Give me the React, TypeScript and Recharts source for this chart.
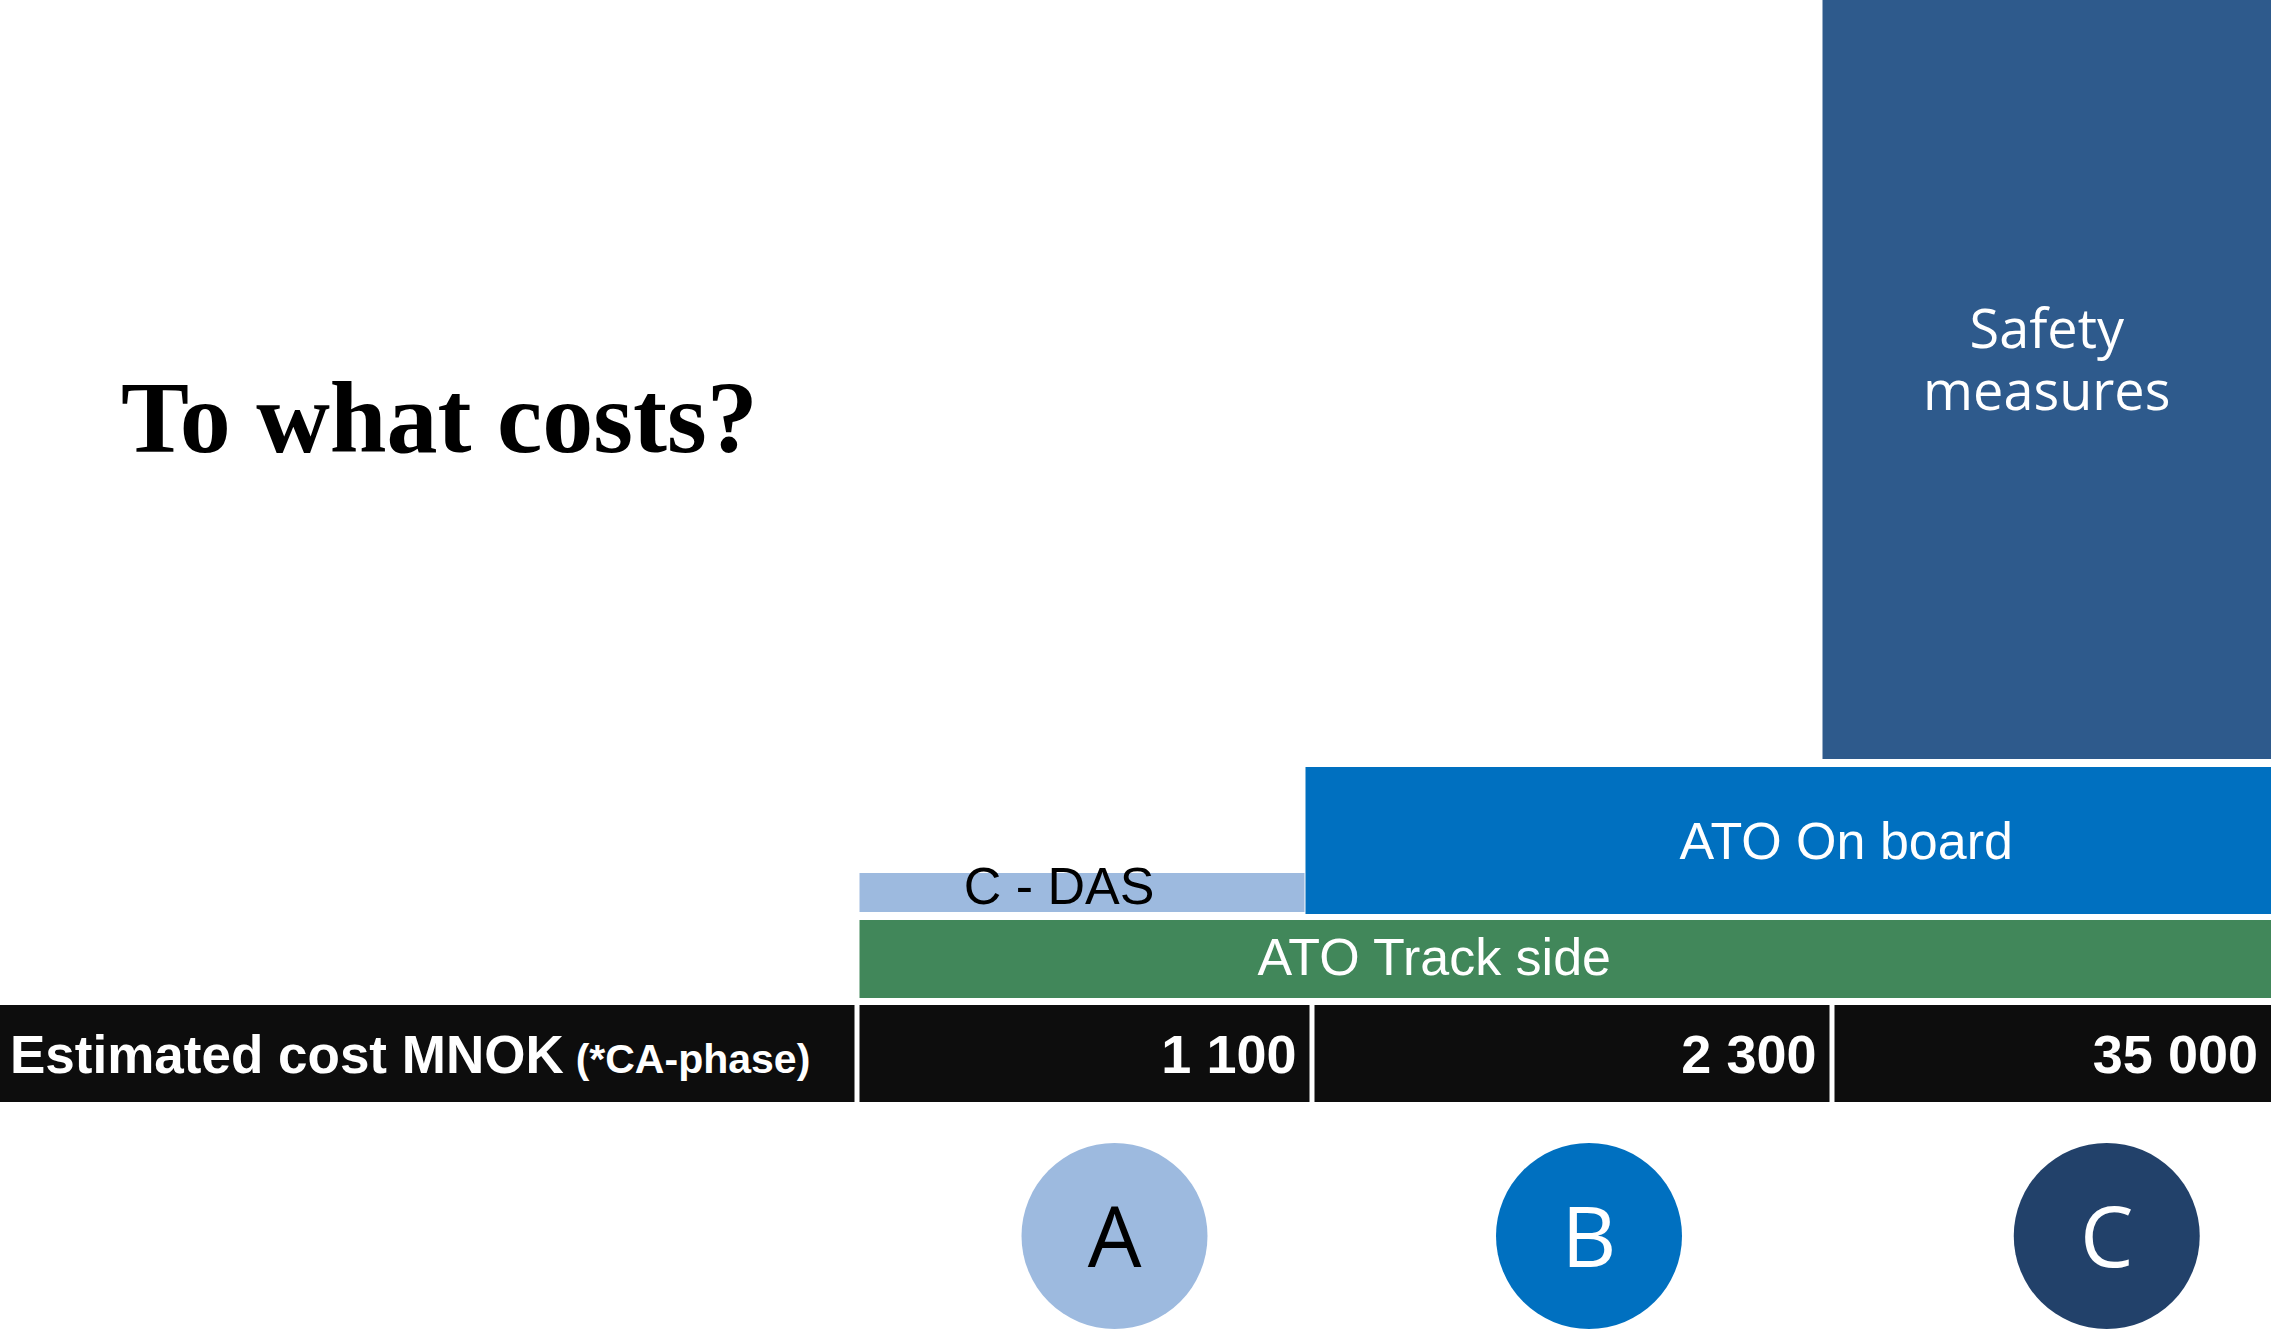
import { ComposedChart, XAxis, YAxis, ReferenceArea, Scatter } from 'recharts';

const W = 2271;
const H = 1332;

// the three options and their estimated cost (MNOK, CA-phase)
const options = ['A', 'B', 'C'];
const costs = ['1 100', '2 300', '35 000'];
const costHeader = 'Estimated cost MNOK';
const costNote = '(*CA-phase)';

// building blocks, and which options they span
const layers = ['ATO Track side', 'C - DAS', 'ATO On board', 'Safety measures'];
const layerFrom = ['A', 'A', 'B', 'C'];
const layerTo = ['C', 'A', 'C', 'C'];

// styles
const optionColors = ['#9DBADF', '#0070C0', '#22416A'];
const optionTextColors = ['#000000', '#ffffff', '#ffffff'];
const layerColors = ['#41875A', '#9DBADF', '#0070C0', '#2E5A8C'];
const layerTextColors = ['#ffffff', '#000000', '#ffffff', '#ffffff'];

// layout (chart units == pixels)
const colEdges = [0, 857, 1312, 1832, W];
const GAP = 5;
const costRow = [1005, 1102];
const layerRows = [[920, 998], [873, 912], [767, 914], [0, 759]];
const layerNudge = [[0, 0], [0, -5], [-9, 0], [-12, 0]];
const labelShift = [[-131, -3], [-23, -7], [58, 0], [0, 0]];
const circleY = 1236;
const circleR = 93;
const circleNudge = [30, 17, 54];

const SANS = '"Liberation Sans", Arial, sans-serif';

const cellX = (i: number) => [
  colEdges[i] + (i > 0 ? GAP / 2 : 0),
  colEdges[i + 1] - (i < options.length ? GAP / 2 : 0),
];

const layerLabel = (k: number) => (props: any) => {
  const { x, y, width, height } = props.viewBox;
  const cx = x + width / 2 + labelShift[k][0];
  const cy = y + height / 2 + labelShift[k][1];
  if (layers[k] === 'Safety measures') {
    return (
      <text x={cx} textAnchor="middle" fill={layerTextColors[k]}
        fontFamily='"Open Sans", sans-serif' fontSize={54}>
        <tspan x={cx} y={348}>Safety</tspan>
        <tspan x={cx} y={410}>measures</tspan>
      </text>
    );
  }
  return (
    <text x={cx} y={cy + 0.358 * 52} textAnchor="middle" fill={layerTextColors[k]}
      fontFamily={SANS} fontSize={52}>
      {layers[k]}
    </text>
  );
};

const costLabel = (i: number) => (props: any) => {
  const { x, y, width, height } = props.viewBox;
  const base = y + height / 2 + 19;
  if (i === 0) {
    return (
      <text x={x + 10} y={base} fill="#ffffff" fontFamily={SANS} fontWeight="bold" fontSize={53}>
        {costHeader}
        <tspan fontSize={41} dx={12}>{costNote}</tspan>
      </text>
    );
  }
  return (
    <text x={x + width - 13} y={base} textAnchor="end" fill="#ffffff"
      fontFamily={SANS} fontWeight="bold" fontSize={54}>
      {costs[i - 1]}
    </text>
  );
};

const circleData = options.map((o, i) => {
  const [a, b] = cellX(i + 1);
  return { x: (a + b) / 2 + circleNudge[i], y: circleY, name: o, i };
});

const OptionDot = (props: any) => {
  const { cx, cy, payload } = props;
  return (
    <g>
      <circle cx={cx} cy={cy} r={circleR} fill={optionColors[payload.i]} />
      <text x={cx} y={cy + 31} textAnchor="middle" fill={optionTextColors[payload.i]}
        fontFamily='"Open Sans", sans-serif' fontSize={85}>
        {payload.name}
      </text>
    </g>
  );
};

const App = () => {
  return (
    <div style={{ position: 'absolute', left: 0, top: 0, width: W, height: H, background: '#fff', overflow: 'hidden' }}>
      <div
        style={{
          position: 'absolute', left: 121, top: 367, fontFamily: '"Liberation Serif", serif',
          fontWeight: 'bold', fontSize: 102, lineHeight: 1, color: '#000', whiteSpace: 'nowrap',
        }}
      >
        To what costs?
      </div>
      <ComposedChart width={W} height={H} margin={{ top: 0, right: 0, bottom: 0, left: 0 }}>
        <XAxis type="number" dataKey="x" domain={[0, W]} hide allowDataOverflow />
        <YAxis type="number" dataKey="y" domain={[0, H]} reversed hide allowDataOverflow />
        {layers.map((name, k) => {
          const from = options.indexOf(layerFrom[k]) + 1;
          const to = options.indexOf(layerTo[k]) + 1;
          return (
            <ReferenceArea
              key={name}
              x1={cellX(from)[0] + layerNudge[k][0]}
              x2={cellX(to)[1] + layerNudge[k][1]}
              y1={layerRows[k][0]}
              y2={layerRows[k][1]}
              fill={layerColors[k]}
              fillOpacity={1}
              stroke="none"
              label={layerLabel(k)}
            />
          );
        })}
        {[0, 1, 2, 3].map((i) => (
          <ReferenceArea
            key={'cost' + i}
            x1={cellX(i)[0]}
            x2={cellX(i)[1]}
            y1={costRow[0]}
            y2={costRow[1]}
            fill="#0D0D0D"
            fillOpacity={1}
            stroke="none"
            label={costLabel(i)}
          />
        ))}
        <Scatter data={circleData} shape={OptionDot} isAnimationActive={false} />
      </ComposedChart>
    </div>
  );
};

export default App;
